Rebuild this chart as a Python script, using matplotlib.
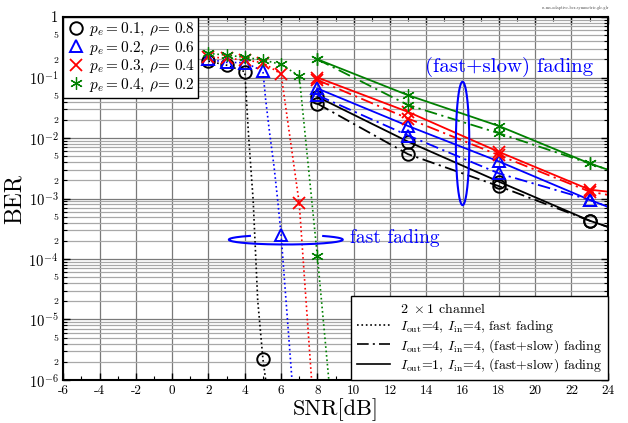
import numpy as np
import matplotlib
matplotlib.use('Agg')
import matplotlib.pyplot as plt
from matplotlib.lines import Line2D
from matplotlib.ticker import FixedLocator

plt.rcParams['mathtext.fontset'] = 'cm'
plt.rcParams['font.family'] = 'serif'
plt.rcParams['font.serif'] = ['cmr10', 'DejaVu Serif']
plt.rcParams['axes.unicode_minus'] = False
plt.rcParams['axes.formatter.use_mathtext'] = True

# fast fading (dotted), markers at integer SNRs
ff_snr = {
    'k': [2, 3, 4, 4.05, 4.2, 4.33, 4.46, 4.71, 5, 5.15],
    'b': [2, 3, 4, 5, 5.15, 5.37, 5.61, 5.81, 6, 6.6],
    'r': [2, 3, 4, 5, 6, 7, 7.68],
    'g': [2, 3, 4, 5, 6, 7, 8, 8.63],
}
ff_ber = {
    'k': [0.187, 0.16, 0.125, 0.07, 1.2e-2, 3.3e-3, 9.5e-4, 2.1e-5, 2.2e-6, 1e-6],
    'b': [0.20, 0.178, 0.176, 0.128, 0.043, 0.012, 3.4e-3, 9.5e-4, 2.5e-4, 1e-6],
    'r': [0.22, 0.208, 0.195, 0.176, 0.114, 8.3e-4, 1e-6],
    'g': [0.25, 0.235, 0.216, 0.195, 0.165, 0.106, 1.1e-4, 1e-6],
}

# (fast+slow) fading, markers at 8, 13, 18, 23
fs_snr = [8, 13, 18, 23, 24]
fs_iout4 = {
    'k': [0.037, 5.4e-3, 1.6e-3, 4.3e-4, 3.4e-4],
    'b': [0.051, 0.011, 2.6e-3, 9.5e-4, 7.3e-4],
    'r': [0.091, 0.021, 5.2e-3, 1.3e-3, 1.15e-3],
    'g': [0.20, 0.035, 0.012, 3.8e-3, 3.0e-3],
}
fs_iout1 = {
    'k': [0.048, 8.7e-3, 1.9e-3, 4.3e-4, 3.4e-4],
    'b': [0.066, 0.0158, 4.1e-3, 9.5e-4, 7.3e-4],
    'r': [0.10, 0.027, 5.9e-3, 1.4e-3, 1.3e-3],
    'g': [0.20, 0.051, 0.0158, 3.8e-3, 3.0e-3],
}

series = ['k', 'b', 'r', 'g']
colors = {'k': 'black', 'b': '#0000ff', 'r': '#ff0000', 'g': '#008000'}
markers = {'k': 'o', 'b': '^', 'r': 'x', 'g': (6, 2, 0)}
mew = {'k': 1.4, 'b': 1.4, 'r': 1.3, 'g': 0.9}
labels = {
    'k': r'$p_e = 0.1$, $\rho$= $0.8$',
    'b': r'$p_e = 0.2$, $\rho$= $0.6$',
    'r': r'$p_e = 0.3$, $\rho$= $0.4$',
    'g': r'$p_e = 0.4$, $\rho$= $0.2$',
}

fig = plt.figure(figsize=(6.28, 4.23), dpi=100)
ax = fig.add_axes([0.1008, 0.1017, 0.867, 0.858])

dashdot = (0, (7, 2.5, 1.2, 2.5))


def mk(s):
    return dict(marker=markers[s], markersize=9, markerfacecolor='none',
                markeredgewidth=mew[s])


for s in series:
    x = np.array(ff_snr[s])
    idx = list(np.where(np.isclose(x, np.round(x)))[0])
    ax.plot(x, ff_ber[s], ls=':', lw=1.2, color=colors[s], markevery=idx, **mk(s))
    ax.plot(fs_snr, fs_iout4[s], ls=dashdot, lw=1.3, color=colors[s],
            markevery=[0, 1, 2, 3], **mk(s))
    ax.plot(fs_snr, fs_iout1[s], ls='-', lw=1.3, color=colors[s],
            markevery=[0, 1, 2, 3], **mk(s))


def ellipse(ax, xc, lyc, a, b, t0=0, t1=360, **kw):
    t = np.radians(np.linspace(t0, t1, 200))
    ax.plot(xc + a * np.cos(t), 10 ** (lyc + b * np.sin(t)), **kw)


ellipse(ax, 16, -2.09, 0.37, 1.02, color='#0000ff', lw=1.5)
ellipse(ax, 6.26, -3.68, 3.14, 0.08, 129, 409, color='#0000ff', lw=1.5)
ax.text(18.56, 10 ** -0.83, '(fast+slow) fading', color='#0000ff',
        fontsize=15, ha='center', va='center')
ax.text(9.8, 10 ** -3.65, 'fast fading', color='#0000ff',
        fontsize=14, ha='left', va='center')

ax.set_yscale('log')
ax.set_xlim(-6, 24)
ax.set_ylim(1e-6, 1)

xt = np.arange(-6, 25, 2)
ax.set_xticks(xt)
ax.set_xticklabels([str(v) for v in xt], fontsize=9.5)
ax.xaxis.set_minor_locator(FixedLocator(np.arange(-6, 25, 1)))

dec = [10.0 ** k for k in range(-6, 1)]
ax.set_yticks(dec)
ax.set_yticklabels([r'$10^{%d}$' % k for k in range(-6, 0)] + ['1'], fontsize=10.5)
mant = [m for k in range(-6, 0) for m in range(2, 10)]
minor = [m * 10.0 ** k for k in range(-6, 0) for m in range(2, 10)]
ax.set_yticks(minor, minor=True)
ax.set_yticklabels([str(m) if m in (2, 5) else '' for m in mant],
                   minor=True, fontsize=7)

ax.tick_params(which='both', direction='in', top=True, right=True)
ax.tick_params(which='major', length=5, width=1.0)
ax.tick_params(which='minor', length=3, width=0.8)
ax.grid(which='major', axis='both', color='#7a7a7a', lw=0.9)
ax.grid(which='minor', axis='y', color='#a8a8a8', lw=0.9)
ax.set_axisbelow(True)
for sp in ax.spines.values():
    sp.set_linewidth(1.5)

ax.set_xlabel('SNR[dB]', fontsize=16, labelpad=1)
ax.set_ylabel('BER', fontsize=17, labelpad=2)

h1 = [Line2D([], [], ls='none', color=colors[s], **mk(s)) for s in series]
leg1 = ax.legend(h1, [labels[s] for s in series], loc='upper left',
                 bbox_to_anchor=(0, 1), borderaxespad=0, fontsize=11,
                 fancybox=False, framealpha=1, edgecolor='black',
                 handletextpad=0.2, labelspacing=0.1, borderpad=0.25,
                 handlelength=1.2)
leg1.get_frame().set_linewidth(1.0)
ax.add_artist(leg1)

h2 = [Line2D([], [], ls='none'),
      Line2D([], [], ls=':', lw=1.2, color='black'),
      Line2D([], [], ls=dashdot, lw=1.2, color='black'),
      Line2D([], [], ls='-', lw=1.2, color='black')]
l2 = [r'$2\ \times 1$ channel',
      r'$I_{\rm out}$=4, $I_{\rm in}$=4, fast fading',
      r'$I_{\rm out}$=4, $I_{\rm in}$=4, (fast+slow) fading',
      r'$I_{\rm out}$=1, $I_{\rm in}$=4, (fast+slow) fading']
leg2 = ax.legend(h2, l2, loc='lower right', bbox_to_anchor=(1, 0),
                 borderaxespad=0, fontsize=10, fancybox=False, framealpha=1,
                 edgecolor='black', handlelength=2.4, handletextpad=0.7,
                 labelspacing=0.15, borderpad=0.4)
leg2.get_frame().set_linewidth(1.0)

fig.text(0.97, 0.981, 'ss-ms-adaptive-ber-symmetric.gle.glr', fontsize=3,
         ha='right', va='center', color='#444444')

fig.savefig('out.png', dpi=100)
